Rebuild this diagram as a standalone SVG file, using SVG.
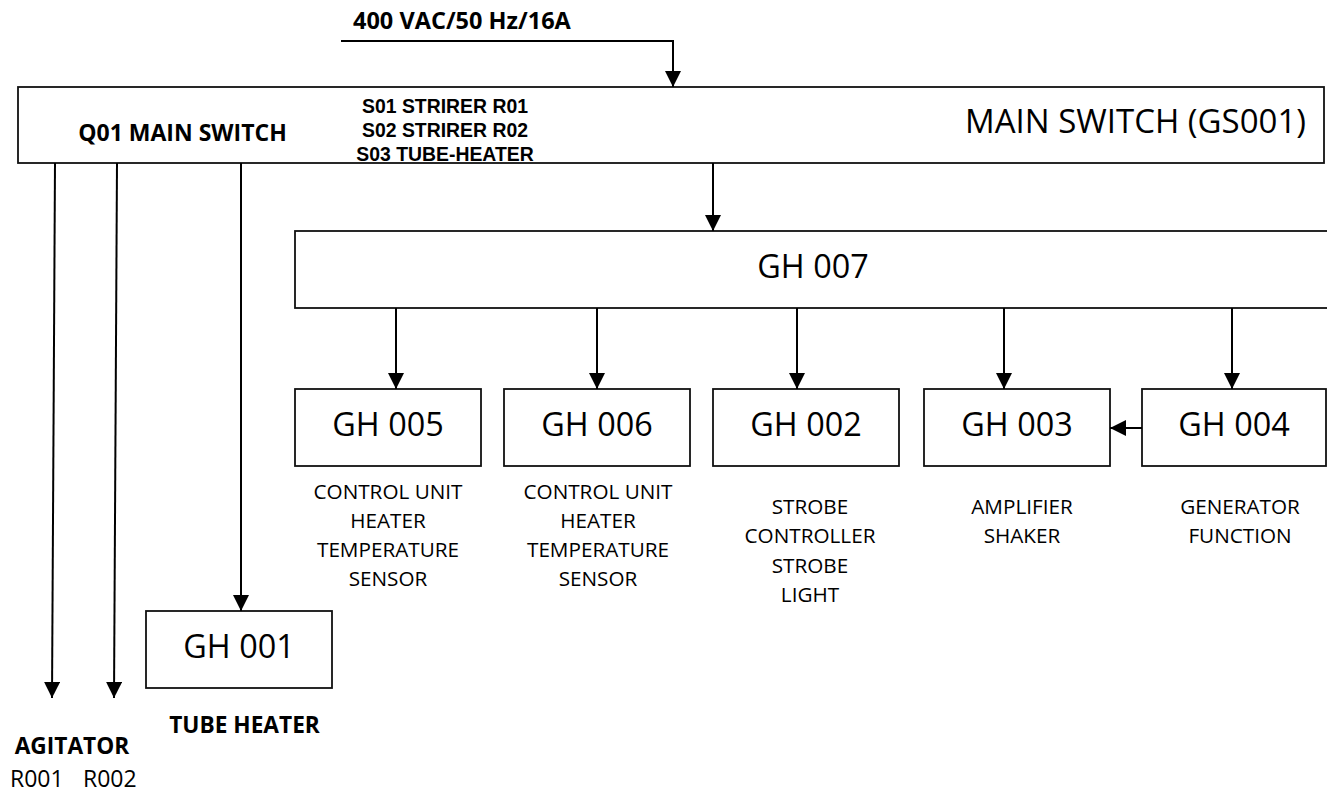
<svg xmlns="http://www.w3.org/2000/svg" width="1327" height="794" viewBox="0 0 1327 794">
<style>
.box{fill:#fff;stroke:#111;stroke-width:1.8}
.lbl{font-family:"Open Sans","Noto Sans","Liberation Sans",sans-serif;fill:#000}
.lib{font-family:"Liberation Sans",Arial,sans-serif;fill:#000}
.gh{font-size:32.4px;text-anchor:middle}
.big{font-size:33px}
.sm{font-size:20.7px;text-anchor:middle}
.b{font-weight:bold}
.con{fill:none;stroke:#000;stroke-width:2}
</style>
<defs>
<marker id="ah" markerUnits="userSpaceOnUse" markerWidth="16" markerHeight="16" viewBox="0 0 15 15" refX="15" refY="7.5" orient="auto">
<path d="M0,0 L15,7.5 L0,15 z" fill="#000"/>
</marker>
</defs>
<rect width="1327" height="794" fill="#fff"/>
<g id="power-label">
<text class="lbl b" x="353" y="29" font-size="23.5">400 VAC/50 Hz/16A</text>
</g>
<g id="main-switch">
<rect class="box" x="18" y="87" width="1306" height="76"/>
<text class="lbl b" x="182.5" y="141" font-size="23" text-anchor="middle">Q01 MAIN SWITCH</text>
<text class="lib b" font-size="19.4" text-anchor="middle"><tspan x="445" y="113">S01 STRIRER R01</tspan><tspan x="445" y="137">S02 STRIRER R02</tspan><tspan x="445" y="161">S03 TUBE-HEATER</tspan></text>
<text class="lbl big" x="1306" y="133" text-anchor="end">MAIN SWITCH (GS001)</text>
</g>
<g id="gh007">
<rect class="box" x="295" y="231" width="1050" height="77"/>
<text class="lbl gh" x="813" y="278">GH 007</text>
</g>
<g id="gh005">
<rect class="box" x="295" y="389" width="186" height="77"/>
<text class="lbl gh" x="388" y="436">GH 005</text>
<text class="lbl sm"><tspan x="388" y="499">CONTROL UNIT</tspan><tspan x="388" y="528">HEATER</tspan><tspan x="388" y="557">TEMPERATURE</tspan><tspan x="388" y="586">SENSOR</tspan></text>
</g>
<g id="gh006">
<rect class="box" x="504" y="389" width="186" height="77"/>
<text class="lbl gh" x="597" y="436">GH 006</text>
<text class="lbl sm"><tspan x="598" y="499">CONTROL UNIT</tspan><tspan x="598" y="528">HEATER</tspan><tspan x="598" y="557">TEMPERATURE</tspan><tspan x="598" y="586">SENSOR</tspan></text>
</g>
<g id="gh002">
<rect class="box" x="713" y="389" width="186" height="77"/>
<text class="lbl gh" x="806" y="436">GH 002</text>
<text class="lbl sm"><tspan x="810" y="514">STROBE</tspan><tspan x="810" y="543">CONTROLLER</tspan><tspan x="810" y="573">STROBE</tspan><tspan x="810" y="602">LIGHT</tspan></text>
</g>
<g id="gh003">
<rect class="box" x="924" y="389" width="186" height="77"/>
<text class="lbl gh" x="1017" y="436">GH 003</text>
<text class="lbl sm"><tspan x="1022" y="514">AMPLIFIER</tspan><tspan x="1022" y="543">SHAKER</tspan></text>
</g>
<g id="gh004">
<rect class="box" x="1142" y="389" width="184" height="77"/>
<text class="lbl gh" x="1234" y="436">GH 004</text>
<text class="lbl sm"><tspan x="1240" y="514">GENERATOR</tspan><tspan x="1240" y="543">FUNCTION</tspan></text>
</g>
<g id="gh001">
<rect class="box" x="146" y="611" width="186" height="77"/>
<text class="lbl gh" x="239" y="658">GH 001</text>
<text class="lbl b" x="244.5" y="733" font-size="22.7" text-anchor="middle">TUBE HEATER</text>
</g>
<g id="agitator">
<text class="lbl b" x="72" y="754" font-size="22.7" text-anchor="middle">AGITATOR</text>
<text class="lbl" x="10" y="787" font-size="23">R001</text>
<text class="lbl" x="83" y="787" font-size="23">R002</text>
</g>
<g id="connectors">
<path class="con" d="M341,41 H673 V87" marker-end="url(#ah)"/>
<path class="con" d="M713,163 V231" marker-end="url(#ah)"/>
<path class="con" d="M396,308 V389" marker-end="url(#ah)"/>
<path class="con" d="M597,308 V389" marker-end="url(#ah)"/>
<path class="con" d="M797,308 V389" marker-end="url(#ah)"/>
<path class="con" d="M1004,308 V389" marker-end="url(#ah)"/>
<path class="con" d="M1232,308 V389" marker-end="url(#ah)"/>
<path class="con" d="M1142,428 H1110" marker-end="url(#ah)"/>
<path class="con" d="M55,163 L52,698" marker-end="url(#ah)"/>
<path class="con" d="M117,163 L114,698" marker-end="url(#ah)"/>
<path class="con" d="M241,163 V611" marker-end="url(#ah)"/>
</g>
</svg>
